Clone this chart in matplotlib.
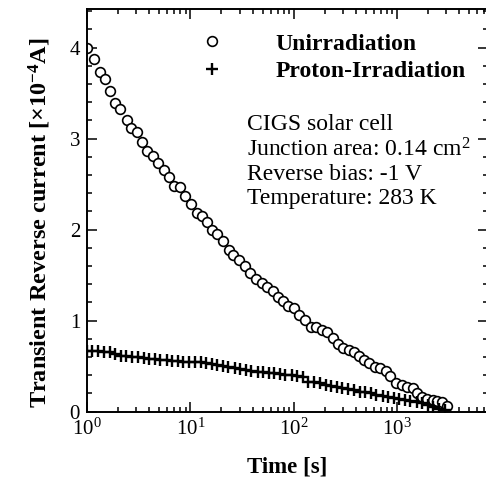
import numpy as np
import matplotlib
matplotlib.use("Agg")
import matplotlib.pyplot as plt
from matplotlib.ticker import MultipleLocator, LogLocator, NullFormatter

plt.rcParams["font.family"] = ["Liberation Serif", "DejaVu Serif"]
plt.rcParams["mathtext.fontset"] = "custom"
plt.rcParams["mathtext.rm"] = "Liberation Serif"
plt.rcParams["mathtext.it"] = "Liberation Serif:italic"
plt.rcParams["mathtext.bf"] = "Liberation Serif:bold"

# unirradiated cell: time [s], current [x1e-4 A]
t_unirr = [1.0, 1.169, 1.337, 1.483, 1.671, 1.866, 2.084, 2.421, 2.667, 3.027,
           3.404, 3.811, 4.325, 4.864, 5.559, 6.180, 6.950, 7.889, 8.892, 10.16,
           11.53, 12.97, 14.42, 16.33, 18.24, 20.61, 23.88, 26.06, 29.79, 33.88,
           37.84, 43.25, 49.09, 55.59, 62.81, 71.12, 79.43, 88.92, 101.6, 113.5,
           128.8, 146.6, 164.8, 187.1, 208.9, 242.1, 271.0, 302.7, 345.9, 384.6,
           432.5, 480.8, 540.8, 613.8, 685.5, 783.4, 857.0, 979.5, 1114, 1262,
           1422, 1556, 1738, 1945, 2223, 2460, 2716, 3034]
i_unirr = [4.00, 3.87, 3.73, 3.65, 3.52, 3.39, 3.33, 3.20, 3.12, 3.07,
           2.96, 2.86, 2.81, 2.73, 2.65, 2.58, 2.48, 2.47, 2.37, 2.28,
           2.18, 2.15, 2.08, 2.00, 1.95, 1.87, 1.78, 1.72, 1.67, 1.60,
           1.52, 1.46, 1.41, 1.37, 1.32, 1.26, 1.21, 1.16, 1.14, 1.06,
           1.01, 0.93, 0.93, 0.90, 0.87, 0.81, 0.74, 0.70, 0.68, 0.65,
           0.61, 0.57, 0.53, 0.49, 0.48, 0.45, 0.39, 0.31, 0.29, 0.27,
           0.26, 0.20, 0.16, 0.14, 0.13, 0.12, 0.10, 0.06]

# proton-irradiated cell
t_prot = [1.0, 1.12, 1.29, 1.45, 1.66, 1.86, 2.14, 2.40, 2.75, 3.09,
          3.55, 3.98, 4.57, 5.13, 5.89, 6.61, 7.59, 8.51, 9.77, 11.0,
          12.6, 14.1, 16.2, 18.2, 20.9, 23.4, 26.9, 30.2, 34.7, 38.9,
          44.7, 50.1, 57.5, 64.6, 74.1, 83.2, 95.5, 107, 123, 138,
          158, 178, 204, 229, 263, 295, 339, 380, 437, 490,
          562, 631, 724, 813, 933, 1047, 1202, 1349, 1549, 1738,
          1995, 2239, 2570, 2884]
i_prot = [0.66, 0.66, 0.66, 0.65, 0.65, 0.63, 0.61, 0.61, 0.60, 0.60,
          0.59, 0.58, 0.58, 0.57, 0.57, 0.56, 0.56, 0.55, 0.55, 0.55,
          0.54, 0.53, 0.52, 0.51, 0.50, 0.49, 0.48, 0.47, 0.46, 0.45,
          0.44, 0.43, 0.42, 0.42, 0.41, 0.40, 0.40, 0.39, 0.38, 0.33,
          0.32, 0.31, 0.29, 0.28, 0.27, 0.26, 0.25, 0.24, 0.22, 0.21,
          0.20, 0.18, 0.17, 0.16, 0.15, 0.14, 0.13, 0.12, 0.10, 0.09,
          0.07, 0.05, 0.03, 0.02]

info_lines = ["CIGS solar cell", "Junction area: 0.14 cm$^2$",
              "Reverse bias: -1 V", "Temperature: 283 K"]

fig = plt.figure(figsize=(4.86, 4.78), dpi=100)
ax = fig.add_axes([0.179, 0.139, 0.825, 0.8415])

ax.plot(t_unirr, i_unirr, "o", ms=7, mfc="white", mec="black", mew=1.2,
        ls="none", label="Unirradiation")
ax.plot(t_prot, i_prot, "+", ms=8.5, mec="black", mew=1.7, ls="none",
        label="Proton-Irradiation")

ax.set_xscale("log")
ax.set_xlim(1, 10 ** 3.88)
ax.set_ylim(0, 4.42)
ax.yaxis.set_major_locator(MultipleLocator(1))
ax.yaxis.set_minor_locator(MultipleLocator(0.2))
ax.xaxis.set_minor_locator(LogLocator(base=10, subs=np.arange(2, 10)))
ax.xaxis.set_minor_formatter(NullFormatter())

ax.tick_params(which="both", direction="in", top=True, right=True,
               labelsize=15, width=1.1, pad=5)
ax.tick_params(which="major", length=7)
ax.tick_params(which="minor", length=3.8)
for sp in ax.spines.values():
    sp.set_linewidth(1.4)

ax.set_xlabel("Time [s]", fontsize=16.5, fontweight="bold", labelpad=12)
ax.set_ylabel("Transient Reverse current [$\\mathbf{\\times 10^{-4}}$A]",
              fontsize=17.5, fontweight="bold")
ax.yaxis.set_label_coords(-0.085, 0.47)

ax.legend(loc="upper left", bbox_to_anchor=(200 / 486, 1 - 33 / 478),
          bbox_transform=fig.transFigure, frameon=False, borderpad=0,
          borderaxespad=0, handlelength=1, handletextpad=2.2,
          labelspacing=0.25, prop={"size": 17, "weight": "bold"})

ax.text(247 / 486, 1 - 204 / 478, "\n".join(info_lines),
        transform=fig.transFigure, fontsize=17, va="baseline", ha="left",
        linespacing=1.17)

fig.savefig("out.png", dpi=100)
